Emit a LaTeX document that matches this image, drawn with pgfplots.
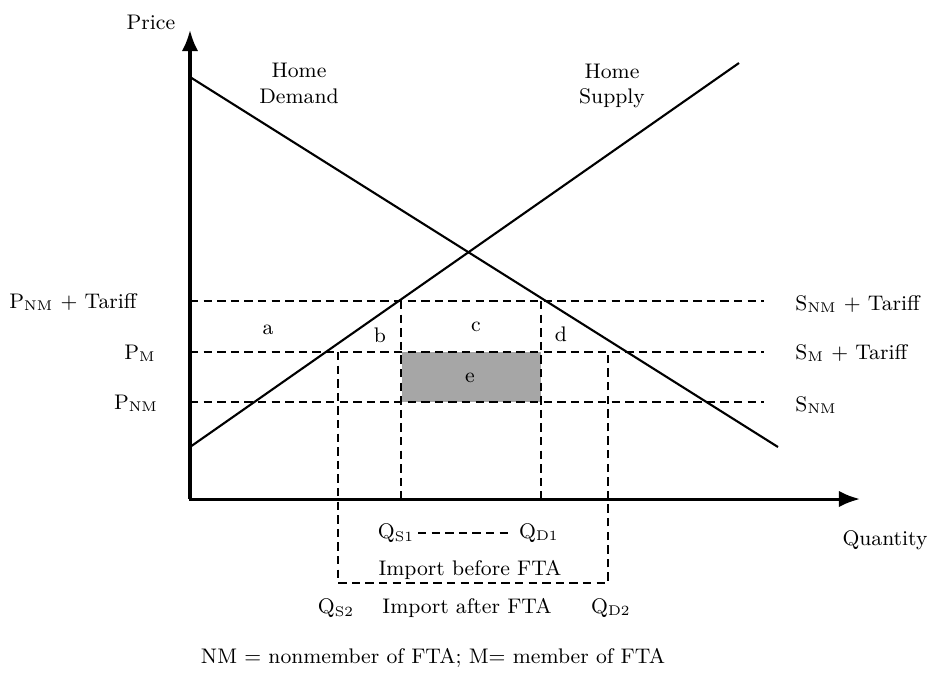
\documentclass[border=0pt]{standalone}
\usepackage{pgfplots}
\pgfplotsset{compat=1.18}
\usetikzlibrary{arrows.meta}
\definecolor{egray}{RGB}{166,166,166}
\begin{document}
\begin{tikzpicture}[every node/.style={font=\fontsize{9}{11}\selectfont, inner sep=0pt}]
\begin{axis}[scale only axis, width=14cm, height=10.163cm,
  xmin=0, xmax=934, ymin=0, ymax=678, y dir=reverse,
  hide axis, clip=false]
\coordinate (bl) at (axis cs:0,678);
\coordinate (tr) at (axis cs:934,0);
% shaded area e
\addplot[draw=none, fill=egray] coordinates {(402,352) (541,352) (541,402) (402,402)} -- cycle;
% dashed price lines
\addplot[black, line width=0.9pt, dash pattern=on 3.6pt off 2.2pt] coordinates {(190,301) (764,301)};
\addplot[black, line width=0.9pt, dash pattern=on 3.6pt off 2.2pt] coordinates {(190,352) (764,352)};
\addplot[black, line width=0.9pt, dash pattern=on 3.6pt off 2.2pt] coordinates {(190,402) (764,402)};
% dashed verticals
\addplot[black, line width=0.9pt, dash pattern=on 3.6pt off 2.2pt] coordinates {(401,301) (401,499)};
\addplot[black, line width=0.9pt, dash pattern=on 3.6pt off 2.2pt] coordinates {(541,301) (541,499)};
\addplot[black, line width=0.9pt, dash pattern=on 3.6pt off 2.2pt] coordinates {(338,352) (338,583) (608,583) (608,352)};
\addplot[black, line width=0.9pt, dash pattern=on 3.6pt off 2.2pt] coordinates {(418,533) (513,533)};
% demand and supply
\addplot[black, line width=0.9pt] coordinates {(190,77) (778,447)};
\addplot[black, line width=0.9pt] coordinates {(190,447) (739,63)};
% axes
\addplot[black, line width=1.3pt, -{Latex[length=9pt,width=7pt]}] coordinates {(190,499) (190,30)};
\addplot[black, line width=1.3pt, -{Latex[length=9pt,width=7pt]}] coordinates {(189,499) (860,499)};
\addplot[black, line width=0.9pt] coordinates {(401,499) (401,491)};
\addplot[black, line width=0.9pt] coordinates {(541,499) (541,491)};
% labels
\node at (axis cs:151,22) {Price};
\node at (axis cs:885,540) {Quantity};
\node[align=center] at (axis cs:299,83) {Home\\Demand};
\node[align=center] at (axis cs:612,86) {Home\\Supply};
\node at (axis cs:73,302) {P\textsubscript{NM} + Tariff};
\node at (axis cs:140,353) {P\textsubscript{M}};
\node at (axis cs:136,403) {P\textsubscript{NM}};
\node[anchor=west] at (axis cs:795,304) {S\textsubscript{NM} + Tariff};
\node[anchor=west] at (axis cs:795,353) {S\textsubscript{M} + Tariff};
\node[anchor=west] at (axis cs:795,405) {S\textsubscript{NM}};
\node at (axis cs:268,330) {a};
\node at (axis cs:380,335) {b};
\node at (axis cs:476,327) {c};
\node at (axis cs:561,334) {d};
\node at (axis cs:470,378) {e};
\node at (axis cs:396,533) {Q\textsubscript{S1}};
\node at (axis cs:539,533) {Q\textsubscript{D1}};
\node at (axis cs:470,570) {Import before FTA};
\node at (axis cs:336,608) {Q\textsubscript{S2}};
\node at (axis cs:467,608) {Import after FTA};
\node at (axis cs:611,608) {Q\textsubscript{D2}};
\node at (axis cs:433,658) {NM = nonmember of FTA; M= member of FTA};
\end{axis}
\pgfresetboundingbox
\path[use as bounding box] (bl) rectangle (tr);
\end{tikzpicture}
\end{document}
